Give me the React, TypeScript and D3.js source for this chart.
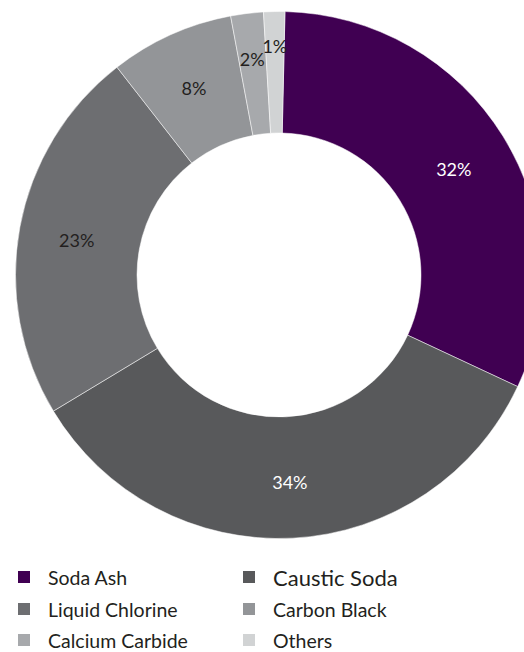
import React from "react";
import * as d3 from "d3";

const categories = ["Soda Ash", "Caustic Soda", "Liquid Chlorine", "Carbon Black", "Calcium Carbide", "Others"];
const shares = [31.6, 34.4, 23.1, 7.6, 2.0, 1.3];
const colors = ["#400052", "#58595b", "#6d6e71", "#939598", "#a7a9ac", "#d1d3d4"];
const labelColors = ["#ffffff", "#ffffff", "#231f20", "#231f20", "#231f20", "#231f20"];

const W = 524;
const H = 652;
const CX = 279;
const CY = 275;
const R_OUT = 263.5;
const R_IN = 142;
const START = (1.3 * Math.PI) / 180;
const FONT = "Lato, 'Open Sans', sans-serif";

export default function App() {
  const pie = d3
    .pie<number>()
    .sort(null)
    .value((d) => d)
    .startAngle(START)
    .endAngle(START + 2 * Math.PI);
  const arcs = pie(shares);
  const arc = d3.arc<d3.PieArcDatum<number>>().innerRadius(R_IN).outerRadius(R_OUT);

  const labelPos = (a: d3.PieArcDatum<number>) => {
    const mid = (a.startAngle + a.endAngle) / 2;
    let r = (R_IN + R_OUT) / 2 + 3;
    if (a.value < 3) r = a.value < 1.5 ? 231 : 220;
    else if (a.value < 10) r = 207;
    return [Math.sin(mid) * r, -Math.cos(mid) * r + 2];
  };

  const legendCols = [18, 243];
  const legendTextDx = 30;
  const legendRows = [577, 609, 640];

  return (
    <svg width={W} height={H} style={{ position: "absolute", left: 0, top: 0 }} fontFamily={FONT}>
      <g transform={`translate(${CX},${CY})`}>
        {arcs.map((a, i) => (
          <path key={i} d={arc(a) || ""} fill={colors[i]} stroke="#ffffff" strokeWidth={0.5} />
        ))}
        {arcs.map((a, i) => {
          const [x, y] = labelPos(a);
          return (
            <text
              key={"l" + i}
              x={x}
              y={y}
              textAnchor="middle"
              dominantBaseline="central"
              fontSize={18}
              fill={labelColors[i]}
            >
              {Math.round(a.value) + "%"}
            </text>
          );
        })}
      </g>
      <g>
        {categories.map((c, i) => {
          const col = i % 2;
          const row = Math.floor(i / 2);
          const x = legendCols[col];
          const y = legendRows[row];
          return (
            <g key={"lg" + i}>
              <rect x={x} y={y - 6} width={12} height={12} fill={colors[i]} />
              <text
                x={x + legendTextDx}
                y={y}
                dominantBaseline="central"
                fontSize={c === "Caustic Soda" ? 22 : 19.5}
                fill="#231f20"
              >
                {c}
              </text>
            </g>
          );
        })}
      </g>
    </svg>
  );
}
